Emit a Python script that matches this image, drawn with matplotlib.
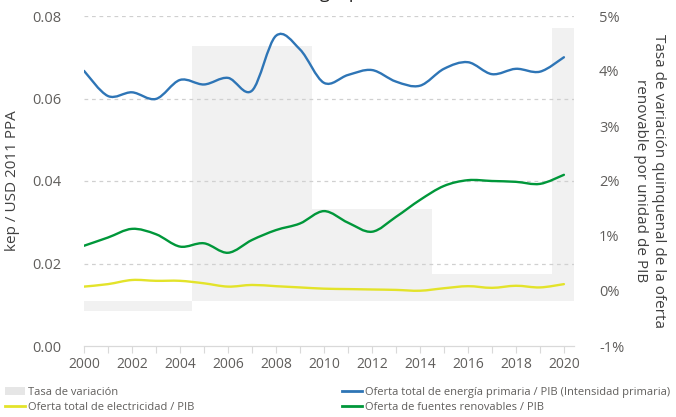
import numpy as np
import matplotlib
matplotlib.use("Agg")
import matplotlib.pyplot as plt
from matplotlib.path import Path
from matplotlib.patches import PathPatch, Patch
from matplotlib.lines import Line2D

plt.rcParams['font.family'] = ['Open Sans', 'DejaVu Sans']

# ---- data ----
years = list(range(2000, 2021))
intensidad_primaria = [0.0667, 0.0606, 0.0615, 0.0599, 0.0645, 0.0634, 0.0650, 0.0619,
                       0.0752, 0.0719, 0.0638, 0.0657, 0.0669, 0.0641, 0.0631, 0.0672,
                       0.0688, 0.0659, 0.0672, 0.0665, 0.0700]
renovables_pib = [0.0243, 0.0263, 0.0284, 0.0271, 0.0241, 0.0249, 0.0226, 0.0257,
                  0.0281, 0.0297, 0.0327, 0.0299, 0.0277, 0.0313, 0.0354, 0.0388,
                  0.0402, 0.0400, 0.0398, 0.0393, 0.0415]
electricidad_pib = [0.0144, 0.0150, 0.0160, 0.0158, 0.0158, 0.0152, 0.0144, 0.0148,
                    0.0145, 0.0142, 0.0139, 0.0138, 0.0137, 0.0136, 0.0134, 0.0140,
                    0.0145, 0.0141, 0.0146, 0.0142, 0.0150]

# five-year change in renewable supply per unit of GDP (%)
periodos = [2002, 2007, 2012, 2017, 2022]
tasa_variacion = [-0.36, 4.45, 1.49, 0.31, 4.78]
base_barras = -0.19

x_ticks = list(range(2000, 2021, 2))
y_left_ticks = [0.00, 0.02, 0.04, 0.06, 0.08]
y_right_ticks = [-1, 0, 1, 2, 3, 4, 5]

C_BLUE = '#2E75B6'
C_GREEN = '#00973A'
C_YELLOW = '#E3E32A'
C_BAR = '#F1F1F1'
C_TEXT = '#605E5C'


def smooth_path(xs, ys, tension=0.5):
    """Cardinal-spline path through the points, as cubic Bezier segments."""
    xs = np.asarray(xs, float)
    ys = np.asarray(ys, float)
    pts = np.column_stack([xs, ys])
    n = len(pts)
    verts = [pts[0]]
    codes = [Path.MOVETO]
    for i in range(n - 1):
        p0 = pts[i - 1] if i > 0 else pts[i]
        p1 = pts[i]
        p2 = pts[i + 1]
        p3 = pts[i + 2] if i + 2 < n else pts[i + 1]
        c1 = p1 + (p2 - p0) * tension / 3.0
        c2 = p2 - (p3 - p1) * tension / 3.0
        verts += [c1, c2, p2]
        codes += [Path.CURVE4] * 3
    return Path(verts, codes)


fig = plt.figure(figsize=(6.76, 4.17), dpi=100)
ax_bar = fig.add_axes([84 / 676, 1 - 346 / 417, 490 / 676, 330 / 417])
ax = ax_bar.twinx()

# bars on the right-hand scale
ax_bar.bar(periodos, np.array(tasa_variacion) - base_barras, bottom=base_barras,
           width=5, color=C_BAR, zorder=1, linewidth=0)
ax_bar.set_ylim(-1, 5)
ax_bar.set_xlim(2000, 2020.42)
ax_bar.yaxis.tick_right()
ax_bar.yaxis.set_label_position('right')
ax_bar.set_yticks(y_right_ticks)
ax_bar.set_yticklabels([f'{v}%' for v in y_right_ticks])

# x axis (shared)
ax_bar.set_xticks(x_ticks)
ax_bar.set_xticks(years, minor=True)
ax_bar.set_xticklabels([str(v) for v in x_ticks])
ax_bar.tick_params(axis='x', which='both', length=5, color='#D9D9D9', width=0.8,
                   labelsize=10, labelcolor=C_TEXT, pad=3)

# lines on the left-hand scale
ax.yaxis.tick_left()
ax.yaxis.set_label_position('left')
ax.set_ylim(0, 0.08)
ax.set_yticks(y_left_ticks)
ax.set_yticklabels([f'{v:.2f}' for v in y_left_ticks])
for yv in y_left_ticks[1:]:
    ax.axhline(yv, color='#D0D0D0', lw=0.9, ls=(0, (3, 3)), zorder=0)

for serie, col in [(electricidad_pib, C_YELLOW), (renovables_pib, C_GREEN),
                   (intensidad_primaria, C_BLUE)]:
    ax.add_patch(PathPatch(smooth_path(years, serie), facecolor='none',
                           edgecolor=col, lw=1.7, capstyle='round', zorder=3))

for a in (ax, ax_bar):
    for s in a.spines.values():
        s.set_visible(False)
ax_bar.spines['bottom'].set_visible(True)
ax_bar.spines['bottom'].set_color('#D9D9D9')
ax_bar.spines['bottom'].set_linewidth(0.9)

ax.tick_params(axis='x', which='both', length=0, labelbottom=False)
ax.tick_params(axis='y', length=0, labelsize=10.5, labelcolor=C_TEXT, pad=16)
ax_bar.tick_params(axis='y', length=0, labelsize=10.5, labelcolor=C_TEXT, pad=18)

ax.set_ylabel('kep / USD 2011 PPA', fontsize=11, color='#404040', labelpad=9)
ax_bar.set_ylabel('Tasa de variación quinquenal de la oferta\nrenovable por unidad de PIB',
                  fontsize=11, color='#404040', rotation=270, labelpad=30,
                  linespacing=1.3)

fig.text(0.5 + 10 / 676, 1 + 2 / 417, 'Oferta de energía por unidad de PIB', ha='center',
         va='baseline', fontsize=13, color='#252423')

leg_kw = dict(frameon=False, fontsize=8, labelcolor=C_TEXT, handlelength=1.8,
              handletextpad=0.3, labelspacing=0.35, borderaxespad=0, borderpad=0)
h1 = [Patch(facecolor='#E6E6E6', edgecolor='none'),
      Line2D([], [], color=C_YELLOW, lw=2)]
fig.legend(h1, ['Tasa de variación', 'Oferta total de electricidad / PIB'],
           loc='upper left', bbox_to_anchor=(5 / 676, 1 - 387 / 417), **leg_kw)
h2 = [Line2D([], [], color=C_BLUE, lw=2), Line2D([], [], color=C_GREEN, lw=2)]
fig.legend(h2, ['Oferta total de energía primaria / PIB (Intensidad primaria)',
                'Oferta de fuentes renovables / PIB'],
           loc='upper left', bbox_to_anchor=(342 / 676, 1 - 387 / 417), **leg_kw)

fig.savefig('out.png', dpi=100)
